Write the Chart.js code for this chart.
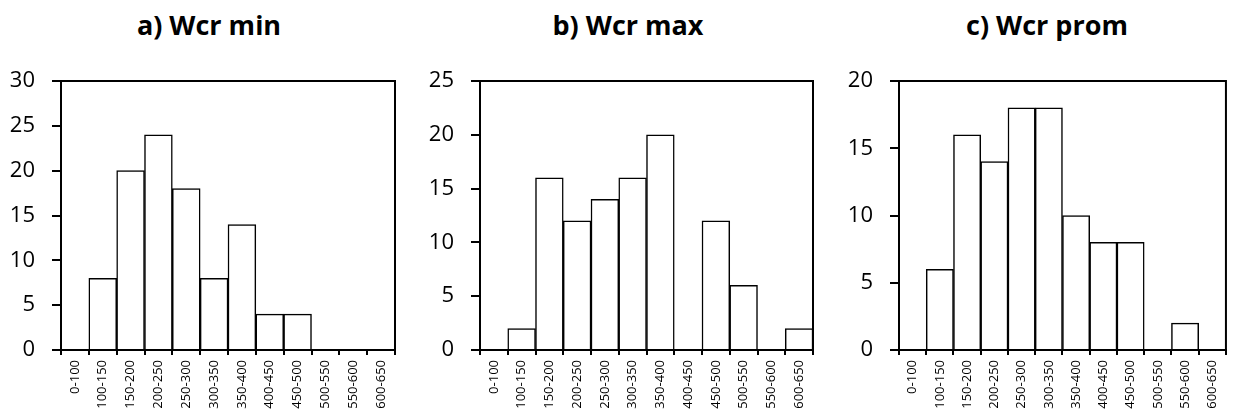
<!DOCTYPE html>
<html>
<head>
<meta charset="utf-8">
<script src="https://cdn.jsdelivr.net/npm/chart.js@4/dist/chart.umd.min.js"></script>
<style>
  body { margin: 0; background: white; width: 1233px; height: 416px; overflow: hidden; position: relative; }
  .box { position: absolute; top: 0; height: 416px; }
  .title { position: absolute; top: 11px; font: bold 27px "Open Sans"; line-height: 27px; transform: translateX(-50%); white-space: nowrap; color: #000; }
</style>
</head>
<body>
<div class="title" style="left:209px">a) Wcr min</div>
<div class="title" style="left:628px">b) Wcr max</div>
<div class="title" style="left:1047px">c) Wcr prom</div>
<div class="box" style="left:0;width:411px"><canvas id="chart-a" width="411" height="416"></canvas></div>
<div class="box" style="left:411px;width:411px"><canvas id="chart-b" width="411" height="416"></canvas></div>
<div class="box" style="left:822px;width:411px"><canvas id="chart-c" width="411" height="416"></canvas></div>
<script>
const binLabels = ["0-100", "100-150", "150-200", "200-250", "250-300", "300-350",
    "350-400", "400-450", "450-500", "500-550", "550-600", "600-650"];
const wcrMin = [0, 8, 20, 24, 18, 8, 14, 4, 4, 0, 0, 0];
const wcrMax = [0, 2, 16, 12, 14, 16, 20, 0, 12, 6, 0, 2];
const wcrProm = [0, 6, 16, 14, 18, 18, 10, 8, 8, 0, 2, 0];
const yMaxes = [30, 25, 20];

// draws the top and right edges of the plot box
const frameBox = {
    id: "frameBox",
    afterDraw(chart) {
        const a = chart.chartArea;
        const ctx = chart.ctx;
        ctx.save();
        ctx.strokeStyle = "#000";
        ctx.lineWidth = 2;
        ctx.beginPath();
        ctx.moveTo(a.left, a.top);
        ctx.lineTo(a.right, a.top);
        ctx.lineTo(a.right, a.bottom);
        ctx.stroke();
        ctx.restore();
    }
};

function drawHist(id, values, yMax, yWidth, padRight) {
    const ctx = document.getElementById(id);
    return new Chart(ctx, {
        type: "bar",
        data: {
            labels: binLabels,
            datasets: [{
                data: values,
                backgroundColor: "white",
                borderColor: "#000",
                borderWidth: 1.5,
                barPercentage: 1,
                categoryPercentage: 1
            }]
        },
        options: {
            responsive: false,
            animation: false,
            layout: { padding: { top: 81, right: padRight, left: 0, bottom: 0 } },
            plugins: { legend: { display: false }, tooltip: { enabled: false } },
            scales: {
                x: {
                    grid: { drawOnChartArea: false, color: "#000", lineWidth: 2, tickLength: 5 },
                    border: { color: "#000", width: 2 },
                    ticks: {
                        color: "#000",
                        font: { family: "Open Sans", size: 13 },
                        minRotation: 90, maxRotation: 90,
                        padding: 5,
                        autoSkip: false
                    },
                    afterFit: function (scale) { scale.height = 66; }
                },
                y: {
                    min: 0, max: yMax,
                    grid: { drawOnChartArea: false, color: "#000", lineWidth: 2, tickLength: 9 },
                    border: { color: "#000", width: 2 },
                    ticks: {
                        stepSize: 5,
                        color: "#000",
                        font: { family: "Open Sans", size: 22 },
                        padding: 17
                    },
                    afterFit: function (scale) { scale.width = yWidth; }
                }
            }
        },
        plugins: [frameBox]
    });
}

drawHist("chart-a", wcrMin, yMaxes[0], 61, 16);
drawHist("chart-b", wcrMax, yMaxes[1], 69, 9);
drawHist("chart-c", wcrProm, yMaxes[2], 77, 2);
</script>
</body>
</html>
